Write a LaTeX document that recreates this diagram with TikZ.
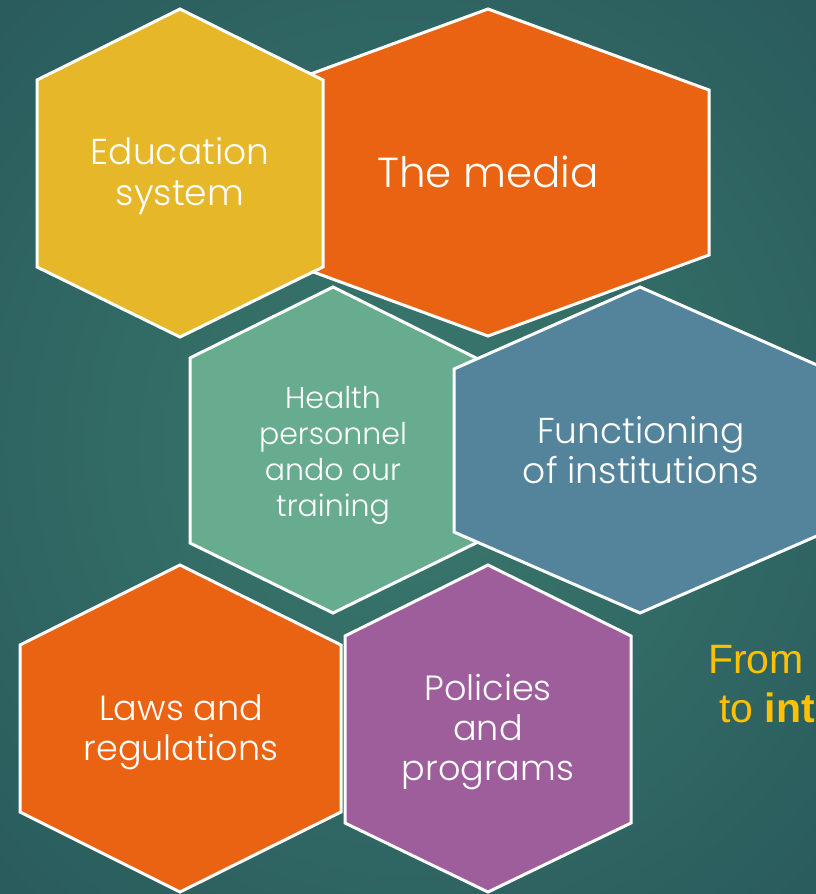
\documentclass[tikz,border=0pt]{standalone}
\usepackage{fontspec}
\setmainfont{Poppins Light}
\newfontfamily\arialfont{Liberation Sans}
\definecolor{bgin}{HTML}{3A796D}
\definecolor{bgout}{HTML}{295A5C}
\definecolor{hexyellow}{HTML}{E6B729}
\definecolor{hexorange}{HTML}{EA6312}
\definecolor{hexgreen}{HTML}{68AC8F}
\definecolor{hexblue}{HTML}{54849C}
\definecolor{hexpurple}{HTML}{9E5E9B}
\definecolor{goldtext}{HTML}{FFC000}
\tikzset{
  hexcell/.style={draw=white, line width=3pt, line join=miter},
  hexlabel/.style={text=white, align=center, inner sep=0pt},
}
\begin{document}
\begin{tikzpicture}[x=1pt,y=-1pt]
\useasboundingbox (0,0) rectangle (816,894);
\shade[inner color=bgin, outer color=bgout] (-200,-200) rectangle (1016,1094);
% The media (behind)
\draw[hexcell, fill=hexorange] (488,9) -- (709,90) -- (709,255) -- (488,336) -- (267,255) -- (267,90) -- cycle;
% Education system
\draw[hexcell, fill=hexyellow] (180,9) -- (323,80) -- (323,267) -- (180,337) -- (37,267) -- (37,80) -- cycle;
% Health personnel
\draw[hexcell, fill=hexgreen] (333,287) -- (476,358) -- (476,543) -- (333,613) -- (190,543) -- (190,358) -- cycle;
% Functioning of institutions
\draw[hexcell, fill=hexblue] (640,287) -- (826,369) -- (826,532) -- (640,613) -- (454,532) -- (454,369) -- cycle;
% Laws and regulations
\draw[hexcell, fill=hexorange] (180,565) -- (341,645) -- (341,812) -- (180,892) -- (20,812) -- (20,645) -- cycle;
% Policies and programs
\draw[hexcell, fill=hexpurple] (488,565) -- (631,636) -- (631,823) -- (488,892) -- (345,823) -- (345,636) -- cycle;

\node[hexlabel, font=\fontsize{36}{41}\selectfont] (edu) at (180,176) {Education\\system};
\node[hexlabel, font=\fontsize{42}{48}\selectfont] (media) at (488,172) {The media};
\node[hexlabel, font=\fontsize{30}{36}\selectfont] (health) at (333,455) {Health\\personnel\\ando our\\training};
\node[hexlabel, font=\fontsize{36}{40}\selectfont] (func) at (641,450) {Functioning\\of institutions};
\node[hexlabel, font=\fontsize{35}{40}\selectfont] (laws) at (181,732) {Laws and\\regulations};
\node[hexlabel, font=\fontsize{35}{40}\selectfont] (pol) at (488,732) {Policies\\and\\programs};

\node[anchor=base west, inner sep=0pt, text=goldtext, font=\arialfont\fontsize{41}{49}\selectfont] (from) at (708,673) {From};
\node[anchor=base west, inner sep=0pt, text=goldtext, font=\arialfont\fontsize{41}{49}\selectfont] (toint) at (719,722) {to \textbf{int}};
\end{tikzpicture}
\end{document}
